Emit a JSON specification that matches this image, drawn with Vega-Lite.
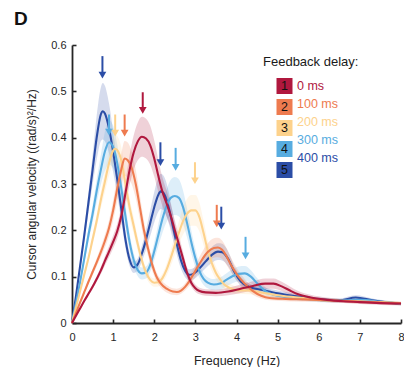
{
"$schema": "https://vega.github.io/schema/vega-lite/v6.json",
"width": 329, "height": 278,
"autosize": {"type": "none"},
"padding": {"left": 72, "top": 45, "right": 3, "bottom": 44},
"background": "white",
"title": {"text": "D", "anchor": "start", "frame": "group", "fontSize": 19, "fontWeight": "bold", "color": "#111111", "font": "Liberation Sans", "dx": -58, "dy": 10, "offset": 5, "baseline": "alphabetic"},
"config": {
  "font": "Liberation Sans",
  "view": {"stroke": null},
  "axis": {"domainColor": "#262626", "domainWidth": 1.8, "tickColor": "#262626", "tickWidth": 1.6, "tickSize": -4, "labelColor": "#262626", "labelFontSize": 11, "titleFontSize": 12.5, "titleFontWeight": "normal", "titleColor": "#262626", "grid": false, "labelFlush": false, "labelOverlap": false, "labelBound": false, "labelFont": "Liberation Sans", "titleFont": "Liberation Sans"}
},
"datasets": {
"psd": [
{"d":"400 ms","f":0,"v":0,"lo":0,"hi":0},
{"d":"400 ms","f":0.1,"v":0.06,"lo":0.056,"hi":0.064},
{"d":"400 ms","f":0.2,"v":0.125,"lo":0.116,"hi":0.134},
{"d":"400 ms","f":0.3,"v":0.19,"lo":0.176,"hi":0.204},
{"d":"400 ms","f":0.4,"v":0.26,"lo":0.238,"hi":0.282},
{"d":"400 ms","f":0.5,"v":0.33,"lo":0.298,"hi":0.362},
{"d":"400 ms","f":0.6,"v":0.4,"lo":0.352,"hi":0.448},
{"d":"400 ms","f":0.7,"v":0.45,"lo":0.392,"hi":0.508},
{"d":"400 ms","f":0.75,"v":0.457,"lo":0.396,"hi":0.518},
{"d":"400 ms","f":0.8,"v":0.452,"lo":0.392,"hi":0.512},
{"d":"400 ms","f":0.9,"v":0.42,"lo":0.366,"hi":0.474},
{"d":"400 ms","f":1.0,"v":0.37,"lo":0.326,"hi":0.414},
{"d":"400 ms","f":1.1,"v":0.31,"lo":0.276,"hi":0.344},
{"d":"400 ms","f":1.2,"v":0.245,"lo":0.219,"hi":0.271},
{"d":"400 ms","f":1.3,"v":0.18,"lo":0.162,"hi":0.198},
{"d":"400 ms","f":1.4,"v":0.137,"lo":0.123,"hi":0.151},
{"d":"400 ms","f":1.5,"v":0.12,"lo":0.108,"hi":0.132},
{"d":"400 ms","f":1.6,"v":0.127,"lo":0.114,"hi":0.14},
{"d":"400 ms","f":1.7,"v":0.15,"lo":0.133,"hi":0.167},
{"d":"400 ms","f":1.8,"v":0.18,"lo":0.158,"hi":0.202},
{"d":"400 ms","f":1.9,"v":0.215,"lo":0.187,"hi":0.243},
{"d":"400 ms","f":2.0,"v":0.25,"lo":0.217,"hi":0.283},
{"d":"400 ms","f":2.1,"v":0.277,"lo":0.24,"hi":0.314},
{"d":"400 ms","f":2.16,"v":0.284,"lo":0.246,"hi":0.322},
{"d":"400 ms","f":2.25,"v":0.277,"lo":0.24,"hi":0.314},
{"d":"400 ms","f":2.35,"v":0.25,"lo":0.216,"hi":0.284},
{"d":"400 ms","f":2.45,"v":0.21,"lo":0.182,"hi":0.238},
{"d":"400 ms","f":2.55,"v":0.17,"lo":0.147,"hi":0.193},
{"d":"400 ms","f":2.65,"v":0.135,"lo":0.117,"hi":0.153},
{"d":"400 ms","f":2.75,"v":0.113,"lo":0.099,"hi":0.127},
{"d":"400 ms","f":2.85,"v":0.104,"lo":0.092,"hi":0.116},
{"d":"400 ms","f":2.95,"v":0.106,"lo":0.094,"hi":0.118},
{"d":"400 ms","f":3.1,"v":0.118,"lo":0.105,"hi":0.131},
{"d":"400 ms","f":3.25,"v":0.133,"lo":0.118,"hi":0.148},
{"d":"400 ms","f":3.4,"v":0.147,"lo":0.13,"hi":0.164},
{"d":"400 ms","f":3.55,"v":0.154,"lo":0.136,"hi":0.172},
{"d":"400 ms","f":3.65,"v":0.153,"lo":0.135,"hi":0.171},
{"d":"400 ms","f":3.8,"v":0.138,"lo":0.122,"hi":0.154},
{"d":"400 ms","f":3.95,"v":0.11,"lo":0.098,"hi":0.122},
{"d":"400 ms","f":4.1,"v":0.09,"lo":0.08,"hi":0.1},
{"d":"400 ms","f":4.3,"v":0.078,"lo":0.07,"hi":0.086},
{"d":"400 ms","f":4.6,"v":0.072,"lo":0.065,"hi":0.079},
{"d":"400 ms","f":5.0,"v":0.064,"lo":0.058,"hi":0.07},
{"d":"400 ms","f":5.5,"v":0.057,"lo":0.052,"hi":0.062},
{"d":"400 ms","f":6.0,"v":0.051,"lo":0.047,"hi":0.055},
{"d":"400 ms","f":6.5,"v":0.049,"lo":0.045,"hi":0.053},
{"d":"400 ms","f":6.9,"v":0.055,"lo":0.05,"hi":0.06},
{"d":"400 ms","f":7.3,"v":0.049,"lo":0.045,"hi":0.053},
{"d":"400 ms","f":7.7,"v":0.044,"lo":0.041,"hi":0.047},
{"d":"400 ms","f":8.0,"v":0.041,"lo":0.038,"hi":0.044},
{"d":"300 ms","f":0,"v":0,"lo":0,"hi":0},
{"d":"300 ms","f":0.1,"v":0.045,"lo":0.042,"hi":0.048},
{"d":"300 ms","f":0.2,"v":0.09,"lo":0.084,"hi":0.096},
{"d":"300 ms","f":0.3,"v":0.14,"lo":0.13,"hi":0.15},
{"d":"300 ms","f":0.4,"v":0.19,"lo":0.176,"hi":0.204},
{"d":"300 ms","f":0.5,"v":0.235,"lo":0.216,"hi":0.254},
{"d":"300 ms","f":0.6,"v":0.285,"lo":0.26,"hi":0.31},
{"d":"300 ms","f":0.7,"v":0.33,"lo":0.298,"hi":0.362},
{"d":"300 ms","f":0.8,"v":0.37,"lo":0.328,"hi":0.412},
{"d":"300 ms","f":0.9,"v":0.39,"lo":0.342,"hi":0.438},
{"d":"300 ms","f":1.0,"v":0.38,"lo":0.334,"hi":0.426},
{"d":"300 ms","f":1.1,"v":0.345,"lo":0.305,"hi":0.385},
{"d":"300 ms","f":1.2,"v":0.29,"lo":0.258,"hi":0.322},
{"d":"300 ms","f":1.3,"v":0.23,"lo":0.205,"hi":0.255},
{"d":"300 ms","f":1.4,"v":0.175,"lo":0.156,"hi":0.194},
{"d":"300 ms","f":1.5,"v":0.136,"lo":0.121,"hi":0.151},
{"d":"300 ms","f":1.6,"v":0.114,"lo":0.101,"hi":0.127},
{"d":"300 ms","f":1.7,"v":0.107,"lo":0.094,"hi":0.12},
{"d":"300 ms","f":1.8,"v":0.109,"lo":0.096,"hi":0.122},
{"d":"300 ms","f":1.9,"v":0.125,"lo":0.11,"hi":0.14},
{"d":"300 ms","f":2.0,"v":0.155,"lo":0.136,"hi":0.174},
{"d":"300 ms","f":2.1,"v":0.19,"lo":0.166,"hi":0.214},
{"d":"300 ms","f":2.2,"v":0.225,"lo":0.195,"hi":0.255},
{"d":"300 ms","f":2.3,"v":0.253,"lo":0.218,"hi":0.288},
{"d":"300 ms","f":2.4,"v":0.27,"lo":0.231,"hi":0.309},
{"d":"300 ms","f":2.5,"v":0.274,"lo":0.233,"hi":0.315},
{"d":"300 ms","f":2.6,"v":0.27,"lo":0.23,"hi":0.31},
{"d":"300 ms","f":2.7,"v":0.25,"lo":0.214,"hi":0.286},
{"d":"300 ms","f":2.8,"v":0.215,"lo":0.184,"hi":0.246},
{"d":"300 ms","f":2.9,"v":0.175,"lo":0.15,"hi":0.2},
{"d":"300 ms","f":3.0,"v":0.14,"lo":0.12,"hi":0.16},
{"d":"300 ms","f":3.1,"v":0.112,"lo":0.097,"hi":0.127},
{"d":"300 ms","f":3.2,"v":0.095,"lo":0.082,"hi":0.108},
{"d":"300 ms","f":3.3,"v":0.087,"lo":0.075,"hi":0.099},
{"d":"300 ms","f":3.45,"v":0.083,"lo":0.071,"hi":0.095},
{"d":"300 ms","f":3.6,"v":0.085,"lo":0.072,"hi":0.098},
{"d":"300 ms","f":3.75,"v":0.093,"lo":0.079,"hi":0.107},
{"d":"300 ms","f":3.9,"v":0.101,"lo":0.086,"hi":0.116},
{"d":"300 ms","f":4.05,"v":0.106,"lo":0.09,"hi":0.122},
{"d":"300 ms","f":4.2,"v":0.107,"lo":0.091,"hi":0.123},
{"d":"300 ms","f":4.35,"v":0.1,"lo":0.086,"hi":0.114},
{"d":"300 ms","f":4.5,"v":0.086,"lo":0.075,"hi":0.097},
{"d":"300 ms","f":4.7,"v":0.069,"lo":0.061,"hi":0.077},
{"d":"300 ms","f":4.9,"v":0.061,"lo":0.054,"hi":0.068},
{"d":"300 ms","f":5.2,"v":0.056,"lo":0.05,"hi":0.062},
{"d":"300 ms","f":5.6,"v":0.053,"lo":0.048,"hi":0.058},
{"d":"300 ms","f":6.0,"v":0.05,"lo":0.045,"hi":0.055},
{"d":"300 ms","f":6.5,"v":0.048,"lo":0.044,"hi":0.052},
{"d":"300 ms","f":7.0,"v":0.05,"lo":0.045,"hi":0.055},
{"d":"300 ms","f":7.5,"v":0.046,"lo":0.042,"hi":0.05},
{"d":"300 ms","f":8.0,"v":0.042,"lo":0.039,"hi":0.045},
{"d":"200 ms","f":0,"v":0,"lo":0,"hi":0},
{"d":"200 ms","f":0.1,"v":0.035,"lo":0.033,"hi":0.037},
{"d":"200 ms","f":0.2,"v":0.07,"lo":0.066,"hi":0.074},
{"d":"200 ms","f":0.3,"v":0.105,"lo":0.099,"hi":0.111},
{"d":"200 ms","f":0.4,"v":0.14,"lo":0.132,"hi":0.148},
{"d":"200 ms","f":0.5,"v":0.18,"lo":0.169,"hi":0.191},
{"d":"200 ms","f":0.6,"v":0.22,"lo":0.206,"hi":0.234},
{"d":"200 ms","f":0.7,"v":0.265,"lo":0.247,"hi":0.283},
{"d":"200 ms","f":0.8,"v":0.305,"lo":0.283,"hi":0.327},
{"d":"200 ms","f":0.9,"v":0.345,"lo":0.318,"hi":0.372},
{"d":"200 ms","f":1.0,"v":0.372,"lo":0.342,"hi":0.402},
{"d":"200 ms","f":1.05,"v":0.376,"lo":0.345,"hi":0.407},
{"d":"200 ms","f":1.1,"v":0.373,"lo":0.342,"hi":0.404},
{"d":"200 ms","f":1.2,"v":0.35,"lo":0.321,"hi":0.379},
{"d":"200 ms","f":1.3,"v":0.3,"lo":0.275,"hi":0.325},
{"d":"200 ms","f":1.4,"v":0.25,"lo":0.229,"hi":0.271},
{"d":"200 ms","f":1.5,"v":0.21,"lo":0.192,"hi":0.228},
{"d":"200 ms","f":1.6,"v":0.17,"lo":0.155,"hi":0.185},
{"d":"200 ms","f":1.7,"v":0.135,"lo":0.123,"hi":0.147},
{"d":"200 ms","f":1.8,"v":0.109,"lo":0.099,"hi":0.119},
{"d":"200 ms","f":1.9,"v":0.093,"lo":0.084,"hi":0.102},
{"d":"200 ms","f":2.0,"v":0.087,"lo":0.078,"hi":0.096},
{"d":"200 ms","f":2.1,"v":0.088,"lo":0.079,"hi":0.097},
{"d":"200 ms","f":2.2,"v":0.097,"lo":0.087,"hi":0.107},
{"d":"200 ms","f":2.3,"v":0.115,"lo":0.102,"hi":0.128},
{"d":"200 ms","f":2.4,"v":0.14,"lo":0.123,"hi":0.157},
{"d":"200 ms","f":2.5,"v":0.168,"lo":0.147,"hi":0.189},
{"d":"200 ms","f":2.6,"v":0.195,"lo":0.17,"hi":0.22},
{"d":"200 ms","f":2.7,"v":0.22,"lo":0.191,"hi":0.249},
{"d":"200 ms","f":2.8,"v":0.236,"lo":0.204,"hi":0.268},
{"d":"200 ms","f":2.9,"v":0.243,"lo":0.21,"hi":0.276},
{"d":"200 ms","f":3.0,"v":0.243,"lo":0.21,"hi":0.276},
{"d":"200 ms","f":3.1,"v":0.228,"lo":0.197,"hi":0.259},
{"d":"200 ms","f":3.2,"v":0.194,"lo":0.168,"hi":0.22},
{"d":"200 ms","f":3.3,"v":0.157,"lo":0.136,"hi":0.178},
{"d":"200 ms","f":3.4,"v":0.129,"lo":0.112,"hi":0.146},
{"d":"200 ms","f":3.5,"v":0.108,"lo":0.094,"hi":0.122},
{"d":"200 ms","f":3.6,"v":0.094,"lo":0.082,"hi":0.106},
{"d":"200 ms","f":3.7,"v":0.083,"lo":0.073,"hi":0.093},
{"d":"200 ms","f":3.85,"v":0.075,"lo":0.066,"hi":0.084},
{"d":"200 ms","f":4.0,"v":0.071,"lo":0.063,"hi":0.079},
{"d":"200 ms","f":4.3,"v":0.07,"lo":0.062,"hi":0.078},
{"d":"200 ms","f":4.6,"v":0.066,"lo":0.059,"hi":0.073},
{"d":"200 ms","f":5.0,"v":0.06,"lo":0.054,"hi":0.066},
{"d":"200 ms","f":5.5,"v":0.055,"lo":0.05,"hi":0.06},
{"d":"200 ms","f":6.0,"v":0.05,"lo":0.046,"hi":0.054},
{"d":"200 ms","f":6.5,"v":0.048,"lo":0.044,"hi":0.052},
{"d":"200 ms","f":7.0,"v":0.047,"lo":0.043,"hi":0.051},
{"d":"200 ms","f":7.5,"v":0.045,"lo":0.041,"hi":0.049},
{"d":"200 ms","f":8.0,"v":0.043,"lo":0.04,"hi":0.046},
{"d":"100 ms","f":0,"v":0,"lo":0,"hi":0},
{"d":"100 ms","f":0.1,"v":0.022,"lo":0.021,"hi":0.023},
{"d":"100 ms","f":0.2,"v":0.045,"lo":0.042,"hi":0.048},
{"d":"100 ms","f":0.3,"v":0.067,"lo":0.063,"hi":0.071},
{"d":"100 ms","f":0.4,"v":0.089,"lo":0.084,"hi":0.094},
{"d":"100 ms","f":0.5,"v":0.11,"lo":0.103,"hi":0.117},
{"d":"100 ms","f":0.6,"v":0.131,"lo":0.122,"hi":0.14},
{"d":"100 ms","f":0.7,"v":0.153,"lo":0.142,"hi":0.164},
{"d":"100 ms","f":0.8,"v":0.177,"lo":0.163,"hi":0.191},
{"d":"100 ms","f":0.9,"v":0.205,"lo":0.188,"hi":0.222},
{"d":"100 ms","f":1.0,"v":0.243,"lo":0.221,"hi":0.265},
{"d":"100 ms","f":1.1,"v":0.29,"lo":0.262,"hi":0.318},
{"d":"100 ms","f":1.2,"v":0.332,"lo":0.298,"hi":0.366},
{"d":"100 ms","f":1.28,"v":0.355,"lo":0.317,"hi":0.393},
{"d":"100 ms","f":1.35,"v":0.352,"lo":0.314,"hi":0.39},
{"d":"100 ms","f":1.45,"v":0.335,"lo":0.3,"hi":0.37},
{"d":"100 ms","f":1.55,"v":0.3,"lo":0.269,"hi":0.331},
{"d":"100 ms","f":1.65,"v":0.25,"lo":0.224,"hi":0.276},
{"d":"100 ms","f":1.75,"v":0.2,"lo":0.18,"hi":0.22},
{"d":"100 ms","f":1.85,"v":0.16,"lo":0.144,"hi":0.176},
{"d":"100 ms","f":1.95,"v":0.126,"lo":0.113,"hi":0.139},
{"d":"100 ms","f":2.05,"v":0.101,"lo":0.091,"hi":0.111},
{"d":"100 ms","f":2.15,"v":0.086,"lo":0.077,"hi":0.095},
{"d":"100 ms","f":2.3,"v":0.074,"lo":0.066,"hi":0.082},
{"d":"100 ms","f":2.45,"v":0.068,"lo":0.061,"hi":0.075},
{"d":"100 ms","f":2.55,"v":0.067,"lo":0.06,"hi":0.074},
{"d":"100 ms","f":2.65,"v":0.07,"lo":0.063,"hi":0.077},
{"d":"100 ms","f":2.75,"v":0.078,"lo":0.07,"hi":0.086},
{"d":"100 ms","f":2.85,"v":0.09,"lo":0.08,"hi":0.1},
{"d":"100 ms","f":2.95,"v":0.105,"lo":0.093,"hi":0.117},
{"d":"100 ms","f":3.05,"v":0.12,"lo":0.106,"hi":0.134},
{"d":"100 ms","f":3.15,"v":0.135,"lo":0.119,"hi":0.151},
{"d":"100 ms","f":3.3,"v":0.153,"lo":0.134,"hi":0.172},
{"d":"100 ms","f":3.45,"v":0.162,"lo":0.141,"hi":0.183},
{"d":"100 ms","f":3.55,"v":0.163,"lo":0.142,"hi":0.184},
{"d":"100 ms","f":3.65,"v":0.158,"lo":0.138,"hi":0.178},
{"d":"100 ms","f":3.75,"v":0.145,"lo":0.127,"hi":0.163},
{"d":"100 ms","f":3.85,"v":0.128,"lo":0.112,"hi":0.144},
{"d":"100 ms","f":3.95,"v":0.113,"lo":0.099,"hi":0.127},
{"d":"100 ms","f":4.05,"v":0.1,"lo":0.088,"hi":0.112},
{"d":"100 ms","f":4.2,"v":0.085,"lo":0.075,"hi":0.095},
{"d":"100 ms","f":4.4,"v":0.069,"lo":0.061,"hi":0.077},
{"d":"100 ms","f":4.6,"v":0.059,"lo":0.053,"hi":0.065},
{"d":"100 ms","f":4.8,"v":0.054,"lo":0.049,"hi":0.059},
{"d":"100 ms","f":5.2,"v":0.052,"lo":0.047,"hi":0.057},
{"d":"100 ms","f":5.6,"v":0.051,"lo":0.046,"hi":0.056},
{"d":"100 ms","f":6.0,"v":0.05,"lo":0.046,"hi":0.054},
{"d":"100 ms","f":6.5,"v":0.048,"lo":0.044,"hi":0.052},
{"d":"100 ms","f":7.0,"v":0.046,"lo":0.042,"hi":0.05},
{"d":"100 ms","f":7.5,"v":0.044,"lo":0.041,"hi":0.047},
{"d":"100 ms","f":8.0,"v":0.042,"lo":0.039,"hi":0.045},
{"d":"0 ms","f":0,"v":0,"lo":0,"hi":0},
{"d":"0 ms","f":0.1,"v":0.016,"lo":0.015,"hi":0.017},
{"d":"0 ms","f":0.2,"v":0.032,"lo":0.03,"hi":0.034},
{"d":"0 ms","f":0.3,"v":0.048,"lo":0.045,"hi":0.051},
{"d":"0 ms","f":0.4,"v":0.063,"lo":0.059,"hi":0.067},
{"d":"0 ms","f":0.5,"v":0.078,"lo":0.073,"hi":0.083},
{"d":"0 ms","f":0.6,"v":0.095,"lo":0.089,"hi":0.101},
{"d":"0 ms","f":0.7,"v":0.113,"lo":0.105,"hi":0.121},
{"d":"0 ms","f":0.8,"v":0.134,"lo":0.124,"hi":0.144},
{"d":"0 ms","f":0.9,"v":0.154,"lo":0.142,"hi":0.166},
{"d":"0 ms","f":1.0,"v":0.175,"lo":0.161,"hi":0.189},
{"d":"0 ms","f":1.1,"v":0.198,"lo":0.182,"hi":0.214},
{"d":"0 ms","f":1.2,"v":0.232,"lo":0.212,"hi":0.252},
{"d":"0 ms","f":1.3,"v":0.28,"lo":0.254,"hi":0.306},
{"d":"0 ms","f":1.4,"v":0.33,"lo":0.298,"hi":0.362},
{"d":"0 ms","f":1.5,"v":0.368,"lo":0.331,"hi":0.405},
{"d":"0 ms","f":1.6,"v":0.392,"lo":0.351,"hi":0.433},
{"d":"0 ms","f":1.7,"v":0.402,"lo":0.359,"hi":0.445},
{"d":"0 ms","f":1.8,"v":0.398,"lo":0.355,"hi":0.441},
{"d":"0 ms","f":1.9,"v":0.384,"lo":0.342,"hi":0.426},
{"d":"0 ms","f":2.0,"v":0.355,"lo":0.316,"hi":0.394},
{"d":"0 ms","f":2.1,"v":0.317,"lo":0.282,"hi":0.352},
{"d":"0 ms","f":2.2,"v":0.283,"lo":0.252,"hi":0.314},
{"d":"0 ms","f":2.3,"v":0.258,"lo":0.23,"hi":0.286},
{"d":"0 ms","f":2.4,"v":0.232,"lo":0.207,"hi":0.257},
{"d":"0 ms","f":2.5,"v":0.2,"lo":0.178,"hi":0.222},
{"d":"0 ms","f":2.6,"v":0.17,"lo":0.151,"hi":0.189},
{"d":"0 ms","f":2.7,"v":0.139,"lo":0.124,"hi":0.154},
{"d":"0 ms","f":2.8,"v":0.108,"lo":0.097,"hi":0.119},
{"d":"0 ms","f":2.9,"v":0.087,"lo":0.078,"hi":0.096},
{"d":"0 ms","f":3.0,"v":0.075,"lo":0.067,"hi":0.083},
{"d":"0 ms","f":3.1,"v":0.069,"lo":0.062,"hi":0.076},
{"d":"0 ms","f":3.25,"v":0.066,"lo":0.059,"hi":0.073},
{"d":"0 ms","f":3.5,"v":0.065,"lo":0.058,"hi":0.072},
{"d":"0 ms","f":3.8,"v":0.068,"lo":0.06,"hi":0.076},
{"d":"0 ms","f":4.1,"v":0.074,"lo":0.065,"hi":0.083},
{"d":"0 ms","f":4.4,"v":0.08,"lo":0.07,"hi":0.09},
{"d":"0 ms","f":4.7,"v":0.085,"lo":0.074,"hi":0.096},
{"d":"0 ms","f":4.9,"v":0.085,"lo":0.074,"hi":0.096},
{"d":"0 ms","f":5.1,"v":0.079,"lo":0.069,"hi":0.089},
{"d":"0 ms","f":5.3,"v":0.07,"lo":0.061,"hi":0.079},
{"d":"0 ms","f":5.5,"v":0.062,"lo":0.055,"hi":0.069},
{"d":"0 ms","f":5.8,"v":0.055,"lo":0.049,"hi":0.061},
{"d":"0 ms","f":6.2,"v":0.05,"lo":0.045,"hi":0.055},
{"d":"0 ms","f":6.6,"v":0.047,"lo":0.043,"hi":0.051},
{"d":"0 ms","f":7.0,"v":0.045,"lo":0.041,"hi":0.049},
{"d":"0 ms","f":7.5,"v":0.043,"lo":0.039,"hi":0.047},
{"d":"0 ms","f":8.0,"v":0.042,"lo":0.038,"hi":0.046}
],
"arrows": [
{"d":"400 ms","f":0.74,"top":0.576,"head":0.535},
{"d":"300 ms","f":0.9,"top":0.45,"head":0.412},
{"d":"200 ms","f":1.05,"top":0.45,"head":0.41},
{"d":"100 ms","f":1.28,"top":0.45,"head":0.41},
{"d":"0 ms","f":1.72,"top":0.498,"head":0.459},
{"d":"400 ms","f":2.15,"top":0.39,"head":0.346},
{"d":"300 ms","f":2.52,"top":0.378,"head":0.336},
{"d":"200 ms","f":2.99,"top":0.347,"head":0.307},
{"d":"100 ms","f":3.52,"top":0.255,"head":0.214},
{"d":"400 ms","f":3.63,"top":0.251,"head":0.209},
{"d":"300 ms","f":4.22,"top":0.186,"head":0.145}
],
"keys": [{"k":"1"},{"k":"2"},{"k":"3"},{"k":"4"},{"k":"5"}]
},
"layer": [
{
 "data": {"name": "psd"},
 "mark": {"type": "area", "opacity": 0.2, "interpolate": "monotone"},
 "encoding": {
  "x": {"field": "f", "type": "quantitative", "scale": {"domain": [0, 8], "nice": false},
        "axis": {"title": "Frequency (Hz)", "values": [0,1,2,3,4,5,6,7,8], "format": "d", "labelPadding": 12, "titlePadding": 12}},
  "y": {"field": "lo", "type": "quantitative", "scale": {"domain": [0, 0.6], "nice": false},
        "axis": {"title": "Cursor angular velocity ((rad/s)²/Hz)", "values": [0,0.1,0.2,0.3,0.4,0.5,0.6], "labelExpr": "datum.value == 0 ? '0' : format(datum.value, '.1f')", "labelPadding": 10, "titlePadding": 12, "titleFontSize": 12}},
  "y2": {"field": "hi"},
  "color": {"field": "d", "type": "nominal",
   "scale": {"domain": ["0 ms","100 ms","200 ms","300 ms","400 ms"], "range": ["#B0183E","#EE7B4F","#FDD28C","#57ACE0","#2B4DA6"]},
   "legend": {"title": "Feedback delay:", "orient": "none", "legendX": 191, "legendY": 11, "padding": 0,
     "titleFontSize": 13, "titleFontWeight": "normal", "titleColor": "#1a1a1a", "titlePadding": 8,
     "labelFontSize": 12.5, "labelOffset": 17, "rowPadding": 1,
     "symbolType": "square", "symbolSize": 289, "symbolStrokeWidth": 0, "symbolOpacity": 0,
     "encode": {
       "labels": {"update": {"fill": {"scale": "color", "field": "value"}}},
       "symbols": {"update": {"opacity": {"value": 0}}}
     }}}
 }
},
{
 "data": {"name": "psd"},
 "mark": {"type": "line", "strokeWidth": 2.1, "interpolate": "monotone"},
 "encoding": {
  "x": {"field": "f", "type": "quantitative"},
  "y": {"field": "v", "type": "quantitative"},
  "color": {"field": "d", "type": "nominal"}
 }
},
{
 "data": {"name": "arrows"},
 "mark": {"type": "rule", "strokeWidth": 2},
 "encoding": {
  "x": {"field": "f", "type": "quantitative"},
  "y": {"field": "top", "type": "quantitative"},
  "y2": {"field": "head"},
  "color": {"field": "d", "type": "nominal"}
 }
},
{
 "data": {"name": "arrows"},
 "mark": {"type": "point", "shape": "triangle-down", "filled": true, "opacity": 1, "size": 60},
 "encoding": {
  "x": {"field": "f", "type": "quantitative"},
  "y": {"field": "head", "type": "quantitative"},
  "color": {"field": "d", "type": "nominal"}
 }
},
{
 "data": {"name": "keys"},
 "mark": {"type": "point", "opacity": 0, "filled": true, "stroke": "#2a2a2a", "strokeWidth": 1.6},
 "encoding": {
  "shape": {"field": "k", "type": "nominal",
   "scale": {"domain": ["1","2","3","4","5"], "range": ["square","square","square","square","square"]},
   "legend": {"title": null, "orient": "none", "legendX": 203.5, "legendY": 32, "padding": 0,
     "labelFontSize": 12.5, "labelColor": "#111111", "labelAlign": "center", "labelOffset": -9, "rowPadding": -10,
     "symbolType": "square", "symbolSize": 256, "symbolStrokeWidth": 1.6, "symbolStrokeColor": "#2a2a2a", "symbolOpacity": 1}},
  "fill": {"field": "k", "type": "nominal",
   "scale": {"domain": ["1","2","3","4","5"], "range": ["#B0183E","#EE7B4F","#FDD28C","#57ACE0","#2B4DA6"]},
   "legend": {"title": null, "orient": "none", "legendX": 203.5, "legendY": 32, "padding": 0,
     "labelFontSize": 12.5, "labelColor": "#111111", "labelAlign": "center", "labelOffset": -9, "rowPadding": -10,
     "symbolType": "square", "symbolSize": 256, "symbolStrokeWidth": 1.6, "symbolStrokeColor": "#2a2a2a", "symbolOpacity": 1}}
 }
}
]
}
